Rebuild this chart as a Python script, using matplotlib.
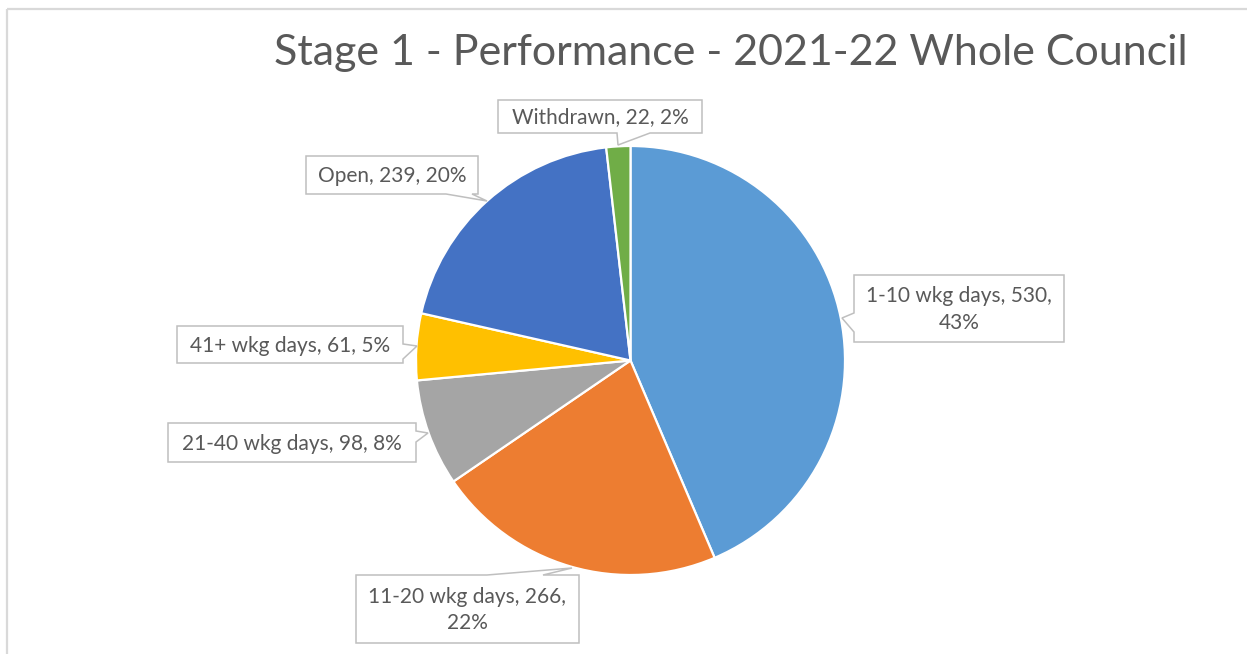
import matplotlib.pyplot as plt
from matplotlib.patches import Polygon

plt.rcParams['font.family'] = ['Lato', 'DejaVu Sans']

title = 'Stage 1 - Performance - 2021-22 Whole Council'
categories = ['1-10 wkg days', '11-20 wkg days', '21-40 wkg days',
              '41+ wkg days', 'Open', 'Withdrawn']
counts = [530, 266, 98, 61, 239, 22]
percents = [43, 22, 8, 5, 20, 2]
colors = ['#5B9BD5', '#ED7D31', '#A5A5A5', '#FFC000', '#4472C4', '#70AD47']

# callout layout in pixels: box (x0, y0, x1, y1), side of pointer, pointer base, tip, wrap
callouts = [
    ((854, 275, 1064, 342), 'left', (313, 332), (842, 318), True),
    ((356, 575, 579, 643), 'top', (487, 543), (572, 568), True),
    ((168, 423, 416, 462), 'right', (431, 442), (428, 433), False),
    ((177, 326, 403, 363), 'right', (344, 359), (417, 346), False),
    ((306, 156, 478, 194), 'bottom', (446, 472), (487, 201), False),
    ((498, 100, 702, 133), 'bottom', (617, 650), (618, 145), False),
]

W, H = 1247, 654
fig = plt.figure(figsize=(W / 100, H / 100), dpi=100)
ax = fig.add_axes([0, 0, 1, 1])

# y axis is flipped below, so counterclock in data = clockwise on screen
ax.pie(counts, colors=colors, startangle=-90, counterclock=True,
       center=(630.5, 360.5), radius=214.5,
       wedgeprops=dict(edgecolor='white', linewidth=1.6))
ax.set_xlim(0, W)
ax.set_ylim(H, 0)
ax.axis('off')

# chart area border (top and left visible)
ax.plot([7, W], [9, 9], color='#D9D9D9', lw=1.6, solid_capstyle='butt')
ax.plot([7, 7], [9, H], color='#D9D9D9', lw=1.6, solid_capstyle='butt')

ax.text(731, 65, title, ha='center', va='baseline', fontsize=31, color='#595959')


def callout_verts(box, side, base, tip):
    x0, y0, x1, y1 = box
    b0, b1 = base
    if side == 'left':
        return [(x0, y0), (x1, y0), (x1, y1), (x0, y1), (x0, b1), tip, (x0, b0)]
    if side == 'right':
        return [(x0, y0), (x1, y0), (x1, b0), tip, (x1, b1), (x1, y1), (x0, y1)]
    if side == 'top':
        return [(x0, y0), (b0, y0), tip, (b1, y0), (x1, y0), (x1, y1), (x0, y1)]
    return [(x0, y0), (x1, y0), (x1, y1), (b1, y1), tip, (b0, y1), (x0, y1)]


for cat, n, p, (box, side, base, tip, wrap) in zip(categories, counts, percents, callouts):
    poly = Polygon(callout_verts(box, side, base, tip), closed=True,
                   facecolor='white', edgecolor='#BFBFBF', lw=1.1, zorder=5)
    ax.add_patch(poly)
    sep = '\n' if wrap else ' '
    label = f'{cat}, {n},{sep}{p}%'
    ax.text((box[0] + box[2]) / 2, (box[1] + box[3]) / 2 + 1, label,
            ha='center', va='center', fontsize=15, color='#595959',
            linespacing=1.4, zorder=6)

fig.savefig('out.png', dpi=100)
